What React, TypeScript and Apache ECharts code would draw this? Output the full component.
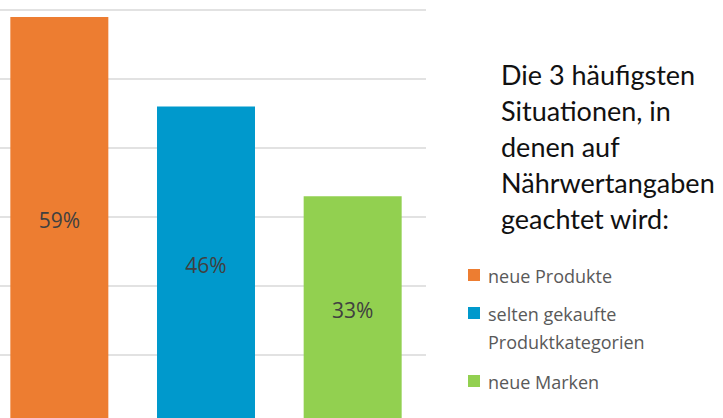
import React, { useEffect, useRef } from "react";
import * as echarts from "echarts";

const categories = ["neue Produkte", "selten gekaufte Produktkategorien", "neue Marken"];
const legendLabels = ["neue Produkte", "selten gekaufte\nProduktkategorien", "neue Marken"];
const values = [59, 46, 33];
const colors = ["#ED7D31", "#0099CC", "#92D050"];
const titleLines = ["Die 3 häufigsten", "Situationen, in", "denen auf", "Nährwertangaben", "geachtet wird:"];

const OFFSET_X = 14;

export default function App() {
  const ref = useRef<HTMLDivElement>(null);
  useEffect(() => {
    if (!ref.current) return;
    const chart = echarts.init(ref.current, null, { renderer: "svg" });
    const legendTops = [266, 304, 372];
    const legendItems: any[] = [];
    legendLabels.forEach((l, i) => {
      legendItems.push({
        type: "rect",
        left: 468 + OFFSET_X,
        top: legendTops[i] + 3,
        shape: { width: 12, height: 12 },
        style: { fill: colors[i] },
      });
      legendItems.push({
        type: "text",
        left: 488 + OFFSET_X,
        top: legendTops[i] - 4,
        style: {
          text: l,
          fill: "#595959",
          font: '18px "Open Sans"',
          lineHeight: 28,
        },
      });
    });
    chart.setOption({
      animation: false,
      grid: { left: 0, right: 297, top: 10, bottom: 0, containLabel: false },
      xAxis: {
        type: "category",
        data: categories,
        axisLine: { show: false },
        axisTick: { show: false },
        axisLabel: { show: false },
      },
      yAxis: {
        type: "value",
        min: 0,
        max: 60,
        interval: 10,
        axisLabel: { show: false },
        axisLine: { show: false },
        axisTick: { show: false },
        splitLine: { lineStyle: { color: "#d9d9d9", width: 1.5 } },
      },
      series: [
        {
          type: "bar",
          barWidth: 98,
          data: values.map((v, i) => ({ value: v, itemStyle: { color: colors[i] } })),
          label: {
            show: true,
            position: "inside",
            formatter: "{c}%",
            color: "#404040",
            fontFamily: "Open Sans",
            fontSize: 21,
          },
        },
      ],
      graphic: [
        {
          type: "text",
          left: 501 + OFFSET_X,
          top: 56,
          style: {
            text: titleLines.join("\n"),
            fill: "#111111",
            font: '27px "Lato"',
            lineHeight: 36,
          },
        },
        ...legendItems,
      ],
    });
    return () => chart.dispose();
  }, []);
  return (
    <div
      style={{
        position: "absolute",
        left: 0,
        top: 0,
        width: 723,
        height: 418,
        overflow: "hidden",
        background: "#fff",
      }}
    >
      <div
        ref={ref}
        style={{ position: "absolute", left: -OFFSET_X, top: 0, width: 723 + OFFSET_X, height: 424 }}
      />
    </div>
  );
}
